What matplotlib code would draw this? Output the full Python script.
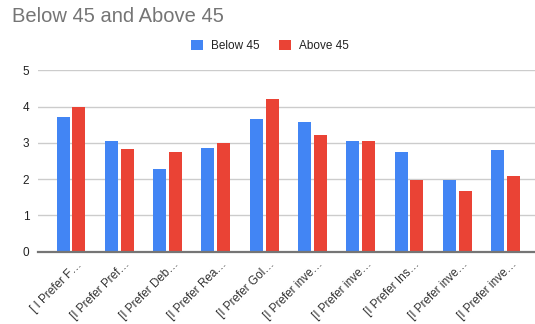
import matplotlib
matplotlib.use("Agg")
import matplotlib.pyplot as plt
import numpy as np

plt.rcParams['font.family'] = ['Liberation Sans', 'DejaVu Sans']

categories = ["[ I Prefer F…", "[I Prefer Pref…", "[I Prefer Deb…", "[I Prefer Rea…",
              "[I Prefer Gol…", "[I Prefer inve…", "[I Prefer inve…", "[I Prefer Ins…",
              "[I Prefer inve…", "[I Prefer inve…"]
below_45 = [3.72, 3.06, 2.28, 2.86, 3.66, 3.57, 3.06, 2.74, 1.98, 2.79]
above_45 = [3.98, 2.82, 2.74, 2.99, 4.21, 3.22, 3.06, 1.98, 1.66, 2.08]
series_names = ["Below 45", "Above 45"]
colors = ["#4285F4", "#EA4335"]

W, H = 535, 324
fig = plt.figure(figsize=(W / 100, H / 100), dpi=100)
ax = fig.add_axes([37.7 / W, 1 - 251.7 / H, 1 - 37.7 / W, (251.7 - 70.3) / H])

x = np.arange(len(categories))
bw = 0.27
off = 0.165
ax.bar(x - off, below_45, bw, color=colors[0], label=series_names[0], zorder=3)
ax.bar(x + off, above_45, bw, color=colors[1], label=series_names[1], zorder=3)

ax.set_xlim(-0.69, 9.61)
ax.set_ylim(0, 5)
ax.set_yticks([0, 1, 2, 3, 4, 5])
ax.yaxis.grid(True, color="#cccccc", linewidth=1, zorder=0)
ax.set_axisbelow(True)
for s in ["top", "right", "left"]:
    ax.spines[s].set_visible(False)
ax.spines["bottom"].set_color("#757575")
ax.spines["bottom"].set_linewidth(1.6)
ax.spines["bottom"].set_zorder(4)
ax.tick_params(axis="y", length=0, pad=6, labelsize=8.5, labelcolor="#222222")
ax.tick_params(axis="x", length=0, pad=5, labelsize=8.5, labelcolor="#333333")
ax.set_xticks(x + 0.1)
ax.set_xticklabels(categories, rotation=45, ha="right", rotation_mode="anchor")

fig.text(12 / W, 1 - 17 / H, "Below 45 and Above 45", fontsize=14.5, color="#757575",
         ha="left", va="center")

leg = fig.legend(loc="center", bbox_to_anchor=(270 / W, 1 - 46 / H), ncol=2, frameon=False,
                 fontsize=8.5, handlelength=1.0, handleheight=1.0, handletextpad=0.7,
                 columnspacing=1.6)
for t in leg.get_texts():
    t.set_color("#222222")

fig.savefig("out.png", dpi=100)
